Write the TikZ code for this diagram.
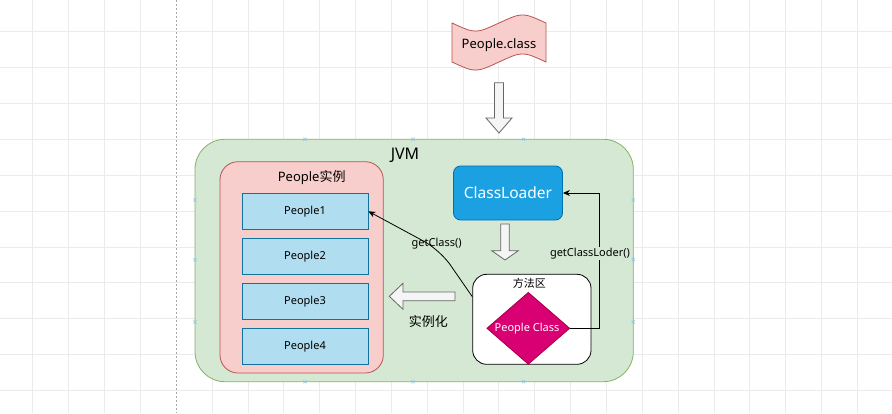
\documentclass[tikz,border=0pt]{standalone}
\usepackage{fontspec}
\setmainfont{Noto Sans}
\newfontfamily\cjk{Noto Sans CJK SC}
\usetikzlibrary{arrows.meta,shapes.geometric}
\definecolor{gridc}{HTML}{EBEBEB}
\definecolor{jvmfill}{HTML}{D5E8D4}
\definecolor{jvmdraw}{HTML}{82B366}
\definecolor{pinkfill}{HTML}{F8CECC}
\definecolor{pinkdraw}{HTML}{B85450}
\definecolor{bluefill}{HTML}{B1DDF0}
\definecolor{bluedraw}{HTML}{10739E}
\definecolor{clfill}{HTML}{1BA1E2}
\definecolor{cldraw}{HTML}{006EAF}
\definecolor{magfill}{HTML}{D80073}
\definecolor{magdraw}{HTML}{A50040}
\definecolor{arrfill}{HTML}{F5F5F5}
\definecolor{arrdraw}{HTML}{666666}
\definecolor{mark}{HTML}{8FC4E0}
\tikzset{
  pbox/.style={draw=bluedraw, fill=bluefill, line width=0.8pt, minimum width=126pt, minimum height=36pt, inner sep=0pt, font=\fontsize{11}{12}\selectfont},
  blockarrow/.style={draw=arrdraw, fill=arrfill, line width=0.8pt, line join=miter},
  conn/.style={draw=black, line width=0.8pt, -{Stealth[length=7pt,width=6pt]}},
  lbl/.style={font=\fontsize{11}{12}\selectfont, inner sep=1pt},
  xmark/.style={draw=mark, line width=0.6pt}
}
\begin{document}
\begin{tikzpicture}[x=1pt,y=-1pt]
\useasboundingbox (0,0) rectangle (892,413);
\fill[white] (0,0) rectangle (892,413);
% grid
\foreach \k in {1,...,25} {
  \pgfmathsetmacro{\gx}{-3.15+\k*35.85}
  \ifnum\k=5
    \draw[gray!70, line width=0.6pt, dashed, dash pattern=on 2pt off 2pt] (\gx,0) -- (\gx,413);
  \else
    \draw[gridc, line width=0.6pt] (\gx,0) -- (\gx,413);
  \fi
}
\foreach \k in {1,...,11} {
  \pgfmathsetmacro{\gy}{-4.15+\k*35.85}
  \draw[gridc, line width=0.6pt] (0,\gy) -- (892,\gy);
}
% tape People.class
\draw[fill=pinkfill, draw=pinkdraw, line width=0.8pt]
  (452,23) .. controls (475.5,33.8) .. (499,23) .. controls (522.5,12.2) .. (546,23)
  -- (546,62) .. controls (522.5,51.2) .. (499,62) .. controls (475.5,72.8) .. (452,62) -- cycle;
\node[font=\fontsize{13}{14}\selectfont] (pc) at (499,45) {People.class};
% arrow down 1
\draw[blockarrow] (494.5,82.7) -- (503.5,82.7) -- (503.5,118) -- (512,118) -- (499,133) -- (486,118) -- (494.5,118) -- cycle;
% JVM container
\draw[fill=jvmfill, draw=jvmdraw, line width=0.8pt, rounded corners=30pt] (195,139.3) rectangle (633.3,381.7);
\node[font=\fontsize{16}{18}\selectfont] (jvm) at (405,155.5) {JVM};
% markers
\foreach \p in {(305,139.3),(413,139.3),(523.5,139.3),(305,381.7),(413,381.7),(523.5,381.7),(195,200),(195,259.7),(195,322),(633.3,200),(633.3,259.7),(633.3,322)} {
  \draw[xmark] \p ++(-1.6,-1.6) -- ++(3.2,3.2) \p ++(-1.6,1.6) -- ++(3.2,-3.2);
}
% People instances container
\draw[fill=pinkfill, draw=pinkdraw, line width=0.8pt, rounded corners=18pt] (220,161.7) rectangle (383.3,373);
\node[font=\fontsize{13}{14}\selectfont] (pt) at (311.7,177.3) {People{\cjk 实例}};
\node[pbox] (p1) at (305,211.3) {People1};
\node[pbox] (p2) at (305,256.3) {People2};
\node[pbox] (p3) at (305,301.3) {People3};
\node[pbox] (p4) at (305,346.3) {People4};
% ClassLoader
\node[draw=cldraw, fill=clfill, line width=0.8pt, rounded corners=7pt, minimum width=109pt, minimum height=54pt, inner sep=0pt, text=white, font=\fontsize{15.5}{17}\selectfont] (cl) at (508,193) {ClassLoader};
% arrow down 2
\draw[blockarrow] (500.7,224) -- (509.3,224) -- (509.3,250.7) -- (518.3,250.7) -- (505,260) -- (491.7,250.7) -- (500.7,250.7) -- cycle;
% method area
\node[draw=black, fill=white, line width=0.8pt, rounded corners=14pt, minimum width=118.3pt, minimum height=90pt, inner sep=0pt] (ma) at (531.85,319.3) {};
\node[font=\cjk\fontsize{11}{12}\selectfont] (mat) at (529.3,283.5) {方法区};
\node[diamond, draw=magdraw, fill=magfill, line width=0.8pt, minimum width=83pt, minimum height=72pt, inner sep=0pt, aspect=1.15, text=white, font=\fontsize{11}{12}\selectfont] (dc) at (528.3,328.3) {};
\node[text=white, font=\fontsize{11}{12}\selectfont] (dct) at (527,328.3) {People Class};
% left block arrow
\draw[blockarrow] (455,292) -- (455,300.7) -- (403,300.7) -- (403,309.3) -- (389.3,296.3) -- (403,283.3) -- (403,292) -- cycle;
\node[font=\cjk\fontsize{13}{14}\selectfont] (inst) at (428.3,321.5) {实例化};
% getClass
\coordinate (gcw) at (440,250);
\draw[conn, rounded corners=18pt] (ma.west |- 0,296.7) -- (gcw) -- (p1.east);
\node[lbl] (gcl) at (436.7,244) {getClass()};
% getClassLoder
\coordinate (gl1) at (599.3,328.3);
\coordinate (gl2) at (599.3,193);
\draw[conn] (dc.east) -- (gl1) -- (gl2) -- (cl.east);
\node[lbl, fill=jvmfill] (gll) at (590,253.3) {getClassLoder()};
\end{tikzpicture}
\end{document}
